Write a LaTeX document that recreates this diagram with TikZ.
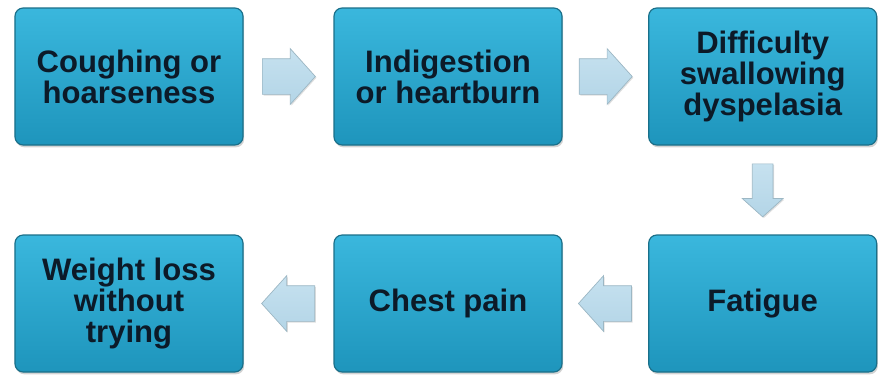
\documentclass[tikz,border=0pt]{standalone}
\usepackage{fontspec}
\setmainfont{Liberation Sans}
\usepackage{tikz}
\usetikzlibrary{positioning, calc, shapes.arrows, shadows}
\definecolor{sym-top}{HTML}{3AB7DD}
\definecolor{sym-bot}{HTML}{1E95BC}
\definecolor{sym-edge}{HTML}{1A6F89}
\definecolor{sym-text}{HTML}{0C1A28}
\definecolor{flow-top}{HTML}{C6E1EF}
\definecolor{flow-fill}{HTML}{B3D5E7}
\definecolor{flow-edge}{HTML}{9CB7C4}

\begin{document}
\begin{tikzpicture}[
    sym/.style={draw=sym-edge, line width=1pt, rounded corners=7pt,
                top color=sym-top, bottom color=sym-bot,
                minimum width=6.84cm, minimum height=4.11cm, align=center,
                text=sym-text, font=\fontsize{26.5}{26.5}\selectfont\bfseries,
                drop shadow={shadow xshift=1pt, shadow yshift=-2pt, opacity=0.35}},
    flow/.style={single arrow, draw=flow-edge, top color=flow-top, bottom color=flow-fill,
                 line width=0.6pt, anchor=tail,
                 minimum height=1.59cm, single arrow tip angle=96,
                 single arrow head extend=0.3cm, inner xsep=0.3cm, inner ysep=0.525cm,
                 drop shadow={shadow xshift=1pt, shadow yshift=-1pt, opacity=0.25}},
]
    \useasboundingbox (0,0) rectangle (26.37,-11.25);

    % top row, left to right
    \node[sym] (cough) at (3.87,-2.295) {Coughing or\\hoarseness};
    \node[sym] (indig) at (13.44,-2.295) {Indigestion\\or heartburn};
    \node[sym] (swall) at (22.88,-2.295) {Difficulty\\swallowing\\dyspelasia};
    % bottom row, right to left
    \node[sym] (fatig) at (22.88,-9.105) {Fatigue};
    \node[sym] (chest) at (13.44,-9.105) {Chest pain};
    \node[sym] (weight) at (3.87,-9.105) {Weight loss\\without\\trying};

    % block arrows, tail set back half a length from the gap's middle
    \node[flow] (a1) at ($(cough.east)!0.5!(indig.west)!0.795cm!(cough.east)$) {};
    \node[flow] (a2) at ($(indig.east)!0.5!(swall.west)!0.795cm!(indig.east)$) {};
    \node[flow, shape border rotate=270] (a3) at ($(swall.south)!0.5!(fatig.north)!0.795cm!(swall.south)$) {};
    \node[flow, shape border rotate=180] (a4) at ($(fatig.west)!0.5!(chest.east)!0.795cm!(fatig.west)$) {};
    \node[flow, shape border rotate=180] (a5) at ($(chest.west)!0.5!(weight.east)!0.795cm!(chest.west)$) {};
\end{tikzpicture}
\end{document}
